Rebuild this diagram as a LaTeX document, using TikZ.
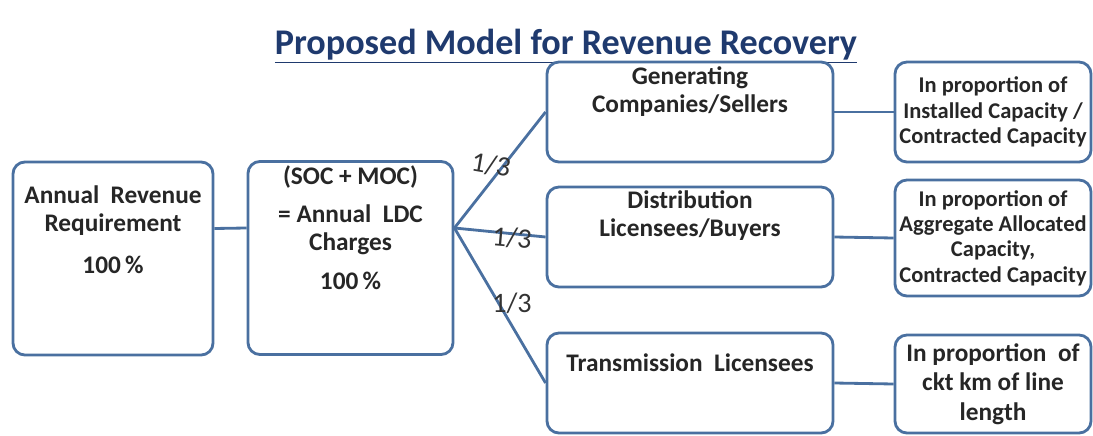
\documentclass[tikz,border=0pt]{standalone}
\usepackage{fontspec}
\setmainfont{Carlito}
\usetikzlibrary{calc, positioning}
\definecolor{boxblue}{RGB}{74,112,160}
\definecolor{titleblue}{RGB}{31,58,110}

\begin{document}
\begin{tikzpicture}[x=0.025cm, y=-0.025cm]
	\useasboundingbox (0,0) rectangle (1093,435);
	
	% define a style of the boxes and of the texts in them
	\tikzstyle{my box} = [draw=boxblue, line width=2pt, rounded corners=0.3cm, minimum width=#1, inner sep=0pt]
	\tikzstyle{my text} = [align=center, font=\bfseries\fontsize{18}{19.8}\selectfont, text=black!85]
	\tikzstyle{small text} = [align=center, font=\bfseries\fontsize{16}{18}\selectfont, text=black!85]
	\tikzstyle{my line} = [draw=boxblue, line width=2pt]
	\tikzstyle{hand} = [font=\fontsize{20}{20}\selectfont, text=black!80]
	
	\node (title) at (566,46) [font=\bfseries\fontsize{25.7}{30}\selectfont, text=titleblue] {\underline{Proposed Model for Revenue Recovery}};
	
	\node (arr) at (113,258.5) [my box=5cm, minimum height=4.825cm] {};
	\node (ldc) at (350.5,258) [my box=5.125cm, minimum height=4.825cm] {};
	\node (gen) at (690,112) [my box=7.15cm, minimum height=2.5cm] {};
	\node (dist) at (690,237) [my box=7.15cm, minimum height=2.5cm] {};
	\node (trans) at (690,383) [my box=7.15cm, minimum height=2.5cm] {};
	\node (prop1) at (993,112) [my box=4.9cm, minimum height=2.5cm, small text] {In proportion of\\Installed Capacity /\\Contracted Capacity};
	\node (prop2) at (993,238) [my box=4.9cm, minimum height=2.9cm, small text] {In proportion of\\Aggregate Allocated\\Capacity,\\Contracted Capacity};
	\node (prop3) at (993,384) [my box=4.9cm, minimum height=2.45cm, my text, font=\bfseries\fontsize{18}{21}\selectfont] {In proportion~~of\\ckt km of line\\length};
	
	\node (arr-t) at (113,230) [my text] {Annual~~Revenue\\Requirement\\[10pt]100\,\%};
	\node (ldc-t) at (350.5,228) [my text] {(SOC + MOC)\\[7pt]= Annual~~LDC\\Charges\\[8pt]100\,\%};
	\node (gen-t) at (690,92) [my text] {Generating\\Companies/Sellers};
	\node (dist-t) at (690,216) [my text] {Distribution\\Licensees/Buyers};
	\node (trans-t) at (690,363) [my text] {Transmission~~Licensees};
	
	% connectors
	\draw[my line] ([yshift=0.75cm]arr.east) -- ([yshift=0.75cm]ldc.west);
	\draw[my line] ([yshift=0.75cm]ldc.east) -- (gen.west);
	\draw[my line] ([yshift=0.75cm]ldc.east) -- (dist.west);
	\draw[my line] ([yshift=0.75cm]ldc.east) -- (trans.west);
	\draw[my line] (gen.east) -- (prop1.west);
	\draw[my line] (dist.east) -- (prop2.west);
	\draw[my line] (trans.east) -- (prop3.west);
	
	% hand written shares
	\node (share1) at (491,165) [hand, rotate=-10] {1/3};
	\node (share2) at (512,238) [hand, rotate=-5] {1/3};
	\node (share3) at (512,303) [hand] {1/3};
\end{tikzpicture}
\end{document}
